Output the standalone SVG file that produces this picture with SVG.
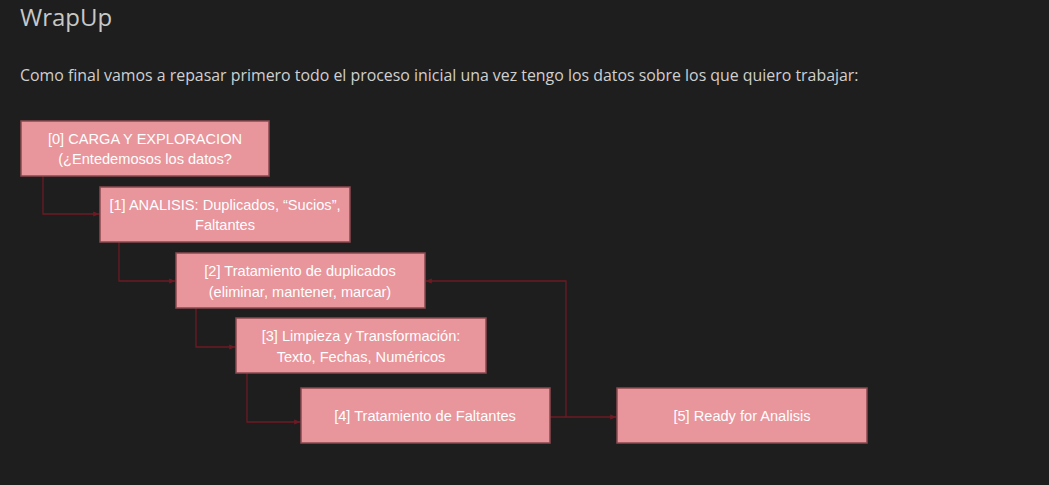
<svg xmlns="http://www.w3.org/2000/svg" width="1049" height="485" viewBox="0 0 1049 485">
<defs>
<style>
.box{fill:#e8959b;stroke:#8a4a50;stroke-width:1.5}
.lbl{font-family:"Liberation Sans",Arial,sans-serif;font-size:14.6px;fill:#ffffff;text-anchor:middle}
.conn{fill:none;stroke:#6e1a24;stroke-width:1.3}
</style>
<marker id="arr" viewBox="0 0 10 10" refX="9" refY="5" markerWidth="5" markerHeight="5" orient="auto">
<path d="M0,1 L10,5 L0,9 z" fill="#6e1a24"/>
</marker>
</defs>
<rect width="1049" height="485" fill="#1e1e1e"/>
<text x="20" y="26" font-family="'Open Sans','Noto Sans',sans-serif" font-size="24" fill="#c8c8c8">WrapUp</text>
<text x="20" y="81" font-family="'Open Sans','Noto Sans',sans-serif" font-size="15.9" fill="#d0d0d0">Como final vamos a repasar primero todo el proceso inicial una vez tengo los datos sobre los que quiero trabajar:</text>
<g id="connectors">
<path class="conn" d="M43,176 V214 H99" marker-end="url(#arr)"/>
<path class="conn" d="M119,242 V281 H175" marker-end="url(#arr)"/>
<path class="conn" d="M196,308 V347 H235" marker-end="url(#arr)"/>
<path class="conn" d="M247,373 V422 H300" marker-end="url(#arr)"/>
<path class="conn" d="M550,417 H616" marker-end="url(#arr)"/>
<path class="conn" d="M566,417 V281 H426" marker-end="url(#arr)"/>
</g>
<g id="n0">
<rect class="box" x="21" y="121" width="248" height="55"/>
<text class="lbl" x="145" y="144">[0] CARGA Y EXPLORACION</text>
<text class="lbl" x="145" y="164">(¿Entedemosos los datos?</text>
</g>
<g id="n1">
<rect class="box" x="100" y="187" width="250" height="55"/>
<text class="lbl" x="225" y="210">[1] ANALISIS: Duplicados, “Sucios”,</text>
<text class="lbl" x="225" y="230">Faltantes</text>
</g>
<g id="n2">
<rect class="box" x="176" y="253" width="249" height="55"/>
<text class="lbl" x="300" y="276">[2] Tratamiento de duplicados</text>
<text class="lbl" x="300" y="297">(eliminar, mantener, marcar)</text>
</g>
<g id="n3">
<rect class="box" x="236" y="318" width="250" height="55"/>
<text class="lbl" x="361" y="341">[3] Limpieza y Transformación:</text>
<text class="lbl" x="361" y="362">Texto, Fechas, Numéricos</text>
</g>
<g id="n4">
<rect class="box" x="301" y="388" width="249" height="55"/>
<text class="lbl" x="425" y="421">[4] Tratamiento de Faltantes</text>
</g>
<g id="n5">
<rect class="box" x="617" y="388" width="250" height="55"/>
<text class="lbl" x="742" y="421">[5] Ready for Analisis</text>
</g>
</svg>
